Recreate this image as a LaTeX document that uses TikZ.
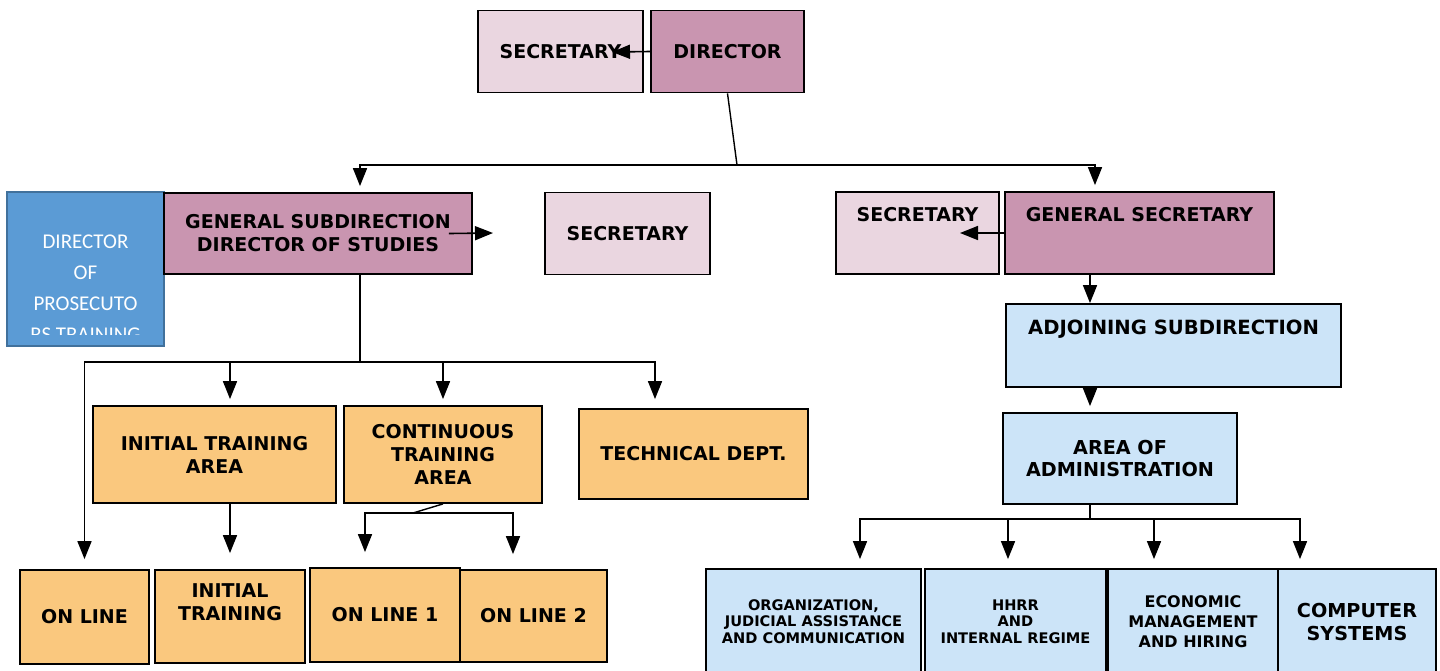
\documentclass[tikz,border=0pt]{standalone}
\usepackage{fontspec}
\setmainfont{DejaVu Sans}
\newfontfamily\calibri{Carlito}
\usetikzlibrary{arrows.meta}
\definecolor{mauve}{HTML}{C995B0}
\definecolor{blush}{HTML}{EAD6E0}
\definecolor{apricot}{HTML}{FAC87E}
\definecolor{skyfill}{HTML}{CCE4F8}
\definecolor{steel}{HTML}{5B9BD5}
\definecolor{steeledge}{HTML}{41719C}
\begin{document}
\begin{tikzpicture}[x=0.5pt,y=-0.5pt,
  box/.style={draw=black,line width=0.9pt,align=center,inner sep=2pt,font=\bfseries\fontsize{9.5}{11.5}\selectfont},
  boss/.style={box,fill=mauve,minimum height=41pt},
  clerk/.style={box,fill=blush,minimum height=41pt},
  area/.style={box,fill=apricot},
  admin/.style={box,fill=skyfill},
  small/.style={font=\bfseries\fontsize{7.3}{8.3}\selectfont},
  arr/.style={-{Triangle[length=9pt,width=7pt]},line width=0.8pt,shorten >=3pt},
  link/.style={line width=0.7pt}]
\useasboundingbox (0,0) rectangle (1440,670);
\node[clerk,minimum width=82.5pt] (sec0) at (560.5,51.5) {SECRETARY};
\node[boss,minimum width=76.5pt] (dir) at (727.5,51.5) {DIRECTOR};
\node[draw=steeledge,fill=steel,line width=0.8pt,minimum width=78.5pt,minimum height=77pt] (dpt) at (85.5,269) {};
\begin{scope}
\clip (7,192) rectangle (164,334);
\node[text=white,align=center,font=\calibri\fontsize{10.5}{15.5}\selectfont] (dpt-txt) at (85.5,288) {DIRECTOR\\OF\\PROSECUTO\\RS TRAINING};
\end{scope}
\node[boss,minimum width=154pt,minimum height=40.5pt] (gsd) at (318,233.5) {GENERAL SUBDIRECTION\\DIRECTOR OF STUDIES};
\node[clerk,minimum width=82.5pt] (sec1) at (627.5,233.5) {SECRETARY};
\node[clerk,minimum width=81.5pt] (sec2) at (917.5,233) {SECRETARY\\[7pt]\mbox{}};
\node[boss,minimum width=134.5pt] (gsec) at (1139.5,233) {GENERAL SECRETARY\\[7pt]\mbox{}};
\node[admin,minimum width=167.5pt,minimum height=41.5pt,font=\bfseries\fontsize{9.8}{11.5}\selectfont] (adj) at (1173.5,345.5) {ADJOINING SUBDIRECTION\\[6.5pt]\mbox{}};
\node[admin,minimum width=117pt,minimum height=45.5pt,font=\bfseries\fontsize{9.6}{11}\selectfont] (aadm) at (1120,458.5) {AREA OF\\ADMINISTRATION};
\node[area,minimum width=121.5pt,minimum height=48.5pt] (ita) at (214.5,454.5) {INITIAL TRAINING\\AREA};
\node[area,minimum width=99pt,minimum height=48.5pt] (cta) at (443,454.5) {CONTINUOUS\\TRAINING\\AREA};
\node[area,minimum width=114.5pt,minimum height=45pt] (tech) at (693.5,454) {TECHNICAL DEPT.};
\node[area,minimum width=64.5pt,minimum height=47pt] (onl) at (84.5,617) {ON LINE};
\node[area,minimum width=75pt,minimum height=46.5pt] (itr) at (230,616.5) {INITIAL\\TRAINING\\[2.5pt]\mbox{}};
\node[area,minimum width=75pt,minimum height=47pt] (onl1) at (385,615) {ON LINE 1};
\node[area,minimum width=73.5pt,minimum height=46pt] (onl2) at (533.5,616) {ON LINE 2};
\node[admin,small,minimum width=107.5pt,minimum height=52.5pt] (org) at (813.5,621.5) {ORGANIZATION,\\JUDICIAL ASSISTANCE\\AND COMMUNICATION};
\node[admin,small,minimum width=90.5pt,minimum height=52.5pt] (hhrr) at (1015.5,621.5) {HHRR\\AND\\INTERNAL REGIME};
\node[admin,minimum width=85pt,minimum height=52.5pt,font=\bfseries\fontsize{8}{10}\selectfont] (econ) at (1193,621.5) {ECONOMIC\\MANAGEMENT\\AND HIRING};
\node[admin,minimum width=79pt,minimum height=52.5pt,font=\bfseries\fontsize{9.6}{11.5}\selectfont] (comp) at (1357,621.5) {COMPUTER\\SYSTEMS};
\coordinate (sec0-in) at (612,52);
\coordinate (gsd-out) at (493,233);
\coordinate (sec2-in) at (960,233);
\coordinate (tbus) at (737,165);
\coordinate (lbus) at (360,362);
\coordinate (cbus) at (413,513);
\coordinate (rx) at (1090,274);
\coordinate (bbus) at (1090,519);
\draw[arr,shorten >=0pt] (dir.west) -- (sec0-in);
\draw[link] (dir.south) -- (tbus);
\draw[arr] (tbus) -| ([xshift=21pt]gsd.north);
\draw[arr] (tbus) -| ([xshift=-22.25pt]gsec.north);
\draw[arr,shorten >=0pt] ([xshift=-12pt]gsd.east) -- (gsd-out);
\draw[arr,shorten >=0pt] (gsec.west) -- (sec2-in);
\draw[link] ([xshift=21pt]gsd.south) -- (lbus);
\draw[arr,shorten >=5pt] (lbus) -| (onl.north);
\draw[arr] (lbus) -| (itr.north |- ita.north);
\draw[arr] (lbus) -| (cta.north);
\draw[arr,shorten >=4.5pt] (lbus) -| ([xshift=-19.25pt]tech.north);
\draw[arr,shorten >=8pt] (itr.north |- ita.south) -- (itr.north);
\draw[link] (cta.south) -- (cbus);
\draw[arr,shorten >=7.5pt] (cbus) -| ([xshift=-10pt]onl1.north);
\draw[arr,shorten >=7.5pt] (cbus) -| ([xshift=-10.25pt]onl2.north);
\draw[arr,shorten >=0pt] (rx) -- (rx |- adj.north);
\draw[arr] (rx |- adj.south) -- (rx |- aadm.north);
\draw[link] (rx |- aadm.south) -- (bbus);
\foreach \b/\dx in {org/23.25,hhrr/-3.75,econ/-19.5,comp/-28.5}
  \draw[arr,shorten >=4.5pt] (bbus) -| ([xshift=\dx pt]\b.north);
\end{tikzpicture}
\end{document}
